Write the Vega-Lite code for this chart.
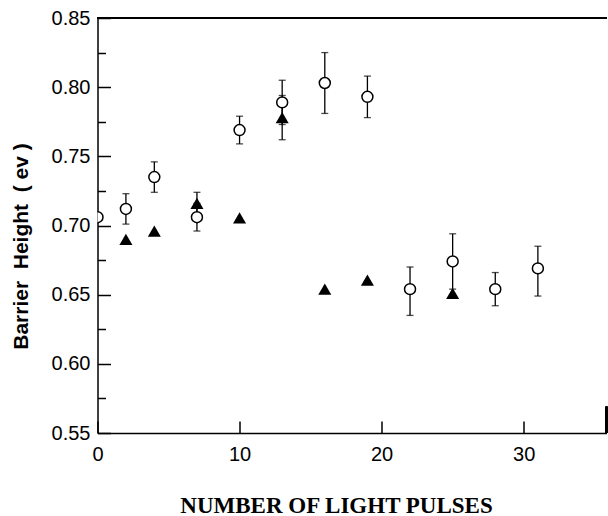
{
  "$schema": "https://vega.github.io/schema/vega-lite/v6.json",
  "width": 509,
  "height": 415,
  "autosize": {"type": "none"},
  "padding": {"left": 97.5, "top": 18, "right": 1.5, "bottom": 83},
  "background": "white",
  "config": {
    "view": {"stroke": null},
    "axis": {"grid": false, "domainColor": "black", "domainWidth": 1.5, "tickColor": "black", "tickWidth": 1.5, "labelColor": "black", "titleColor": "black", "labelFlush": false}
  },
  "data": {
    "values": [
      {"pulses": 0, "series": "open", "height": 0.706, "lo": null, "hi": null},
      {"pulses": 2, "series": "open", "height": 0.712, "lo": 0.701, "hi": 0.723},
      {"pulses": 4, "series": "open", "height": 0.735, "lo": 0.724, "hi": 0.746},
      {"pulses": 7, "series": "open", "height": 0.706, "lo": 0.696, "hi": 0.716},
      {"pulses": 10, "series": "open", "height": 0.769, "lo": 0.759, "hi": 0.779},
      {"pulses": 13, "series": "open", "height": 0.789, "lo": 0.773, "hi": 0.805},
      {"pulses": 16, "series": "open", "height": 0.803, "lo": 0.781, "hi": 0.825},
      {"pulses": 19, "series": "open", "height": 0.793, "lo": 0.778, "hi": 0.808},
      {"pulses": 22, "series": "open", "height": 0.654, "lo": 0.635, "hi": 0.67},
      {"pulses": 25, "series": "open", "height": 0.674, "lo": 0.654, "hi": 0.694},
      {"pulses": 28, "series": "open", "height": 0.654, "lo": 0.642, "hi": 0.666},
      {"pulses": 31, "series": "open", "height": 0.669, "lo": 0.649, "hi": 0.685},
      {"pulses": 2, "series": "filled", "height": 0.69, "lo": null, "hi": null},
      {"pulses": 4, "series": "filled", "height": 0.696, "lo": null, "hi": null},
      {"pulses": 7, "series": "filled", "height": 0.716, "lo": 0.708, "hi": 0.724},
      {"pulses": 10, "series": "filled", "height": 0.7055, "lo": null, "hi": null},
      {"pulses": 13, "series": "filled", "height": 0.778, "lo": 0.762, "hi": 0.794},
      {"pulses": 16, "series": "filled", "height": 0.654, "lo": null, "hi": null},
      {"pulses": 19, "series": "filled", "height": 0.6605, "lo": null, "hi": null},
      {"pulses": 25, "series": "filled", "height": 0.651, "lo": null, "hi": null}
    ]
  },
  "layer": [
    {
      "transform": [{"filter": "datum.lo != null"}],
      "mark": {"type": "errorbar", "color": "black", "thickness": 1.3, "ticks": {"size": 7}},
      "encoding": {
        "x": {"field": "pulses", "type": "quantitative"},
        "y": {"field": "lo", "type": "quantitative", "axis": null},
        "y2": {"field": "hi"}
      }
    },
    {
      "transform": [{"filter": "datum.series == 'open'"}],
      "mark": {"type": "point", "shape": "circle", "filled": true, "fill": "white", "stroke": "black", "strokeWidth": 1.5, "size": 120, "opacity": 1, "clip": true},
      "encoding": {
        "x": {
          "field": "pulses",
          "type": "quantitative",
          "scale": {"domain": [0, 35.83], "nice": false, "zero": false},
          "axis": {
            "values": [0, 10, 20, 30],
            "tickSize": -12,
            "labelPadding": 23.6,
            "labelFont": "Liberation Sans",
            "labelFontSize": 20,
            "title": "NUMBER OF LIGHT PULSES",
            "titleFont": "Liberation Serif",
            "titleFontWeight": "bold",
            "titleFontSize": 23,
            "titleX": 238.5,
            "titleY": 79,
            "titleAlign": "center",
            "titleBaseline": "alphabetic"
          }
        },
        "y": {
          "field": "height",
          "type": "quantitative",
          "scale": {"domain": [0.55, 0.85], "nice": false, "zero": false},
          "axis": {
            "orient": "left",
            "values": [0.55, 0.6, 0.65, 0.7, 0.75, 0.8, 0.85],
            "format": ".2f",
            "tickSize": -13,
            "labelPadding": 20.5,
            "labelFont": "Liberation Sans",
            "labelFontSize": 20,
            "title": "Barrier\u00a0\u00a0Height\u00a0\u00a0(\u00a0ev\u00a0)",
            "titleFont": "Liberation Sans",
            "titleFontWeight": "bold",
            "titleFontSize": 21,
            "titleAngle": -90,
            "titleX": -70.5,
            "titleY": 228,
            "titleAlign": "center",
            "titleBaseline": "alphabetic"
          }
        }
      }
    },
    {
      "transform": [{"filter": "datum.series == 'filled'"}],
      "mark": {"type": "point", "shape": "triangle-up", "filled": true, "fill": "black", "strokeWidth": 0, "size": 170, "opacity": 1},
      "encoding": {
        "x": {"field": "pulses", "type": "quantitative"},
        "y": {"field": "height", "type": "quantitative", "axis": null}
      }
    },
    {
      "mark": {"type": "rule", "color": "black", "strokeWidth": 1.5},
      "encoding": {
        "y": {
          "datum": 0.85,
          "type": "quantitative",
          "axis": {"orient": "left", "values": [0.575, 0.625, 0.675, 0.725, 0.775, 0.825], "labels": false, "domain": false, "tickSize": -8, "title": null}
        }
      }
    },
    {
      "mark": {"type": "rule", "color": "black", "strokeWidth": 1.5},
      "encoding": {
        "x": {"datum": 35.83, "type": "quantitative"},
        "y": {"datum": 0.55, "type": "quantitative", "axis": null},
        "y2": {"datum": 0.569}
      }
    }
  ],
  "resolve": {"axis": {"y": "independent"}}
}
